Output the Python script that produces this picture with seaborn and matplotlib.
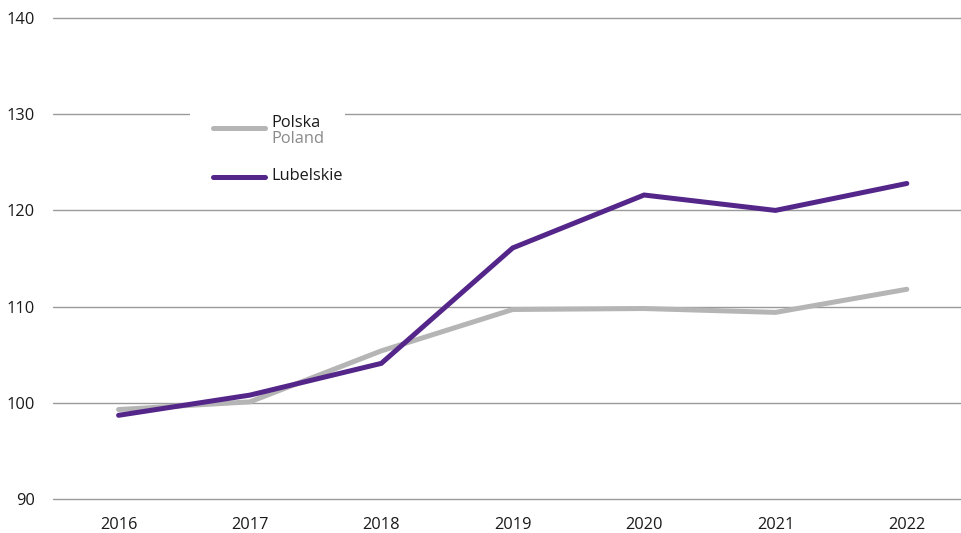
import matplotlib
matplotlib.use("Agg")
import matplotlib.pyplot as plt
import seaborn as sns
import pandas as pd
from matplotlib.lines import Line2D
from matplotlib.patches import Rectangle

years = [2016, 2017, 2018, 2019, 2020, 2021, 2022]
polska = [99.3, 100.1, 105.4, 109.7, 109.8, 109.4, 111.8]
lubelskie = [98.7, 100.8, 104.1, 116.1, 121.6, 120.0, 122.8]
yticks = [90, 100, 110, 120, 130, 140]

df = pd.DataFrame({
    "year": years * 2,
    "value": polska + lubelskie,
    "series": ["Polska"] * len(years) + ["Lubelskie"] * len(years),
})

sns.set_theme(style="white")
plt.rcParams["font.family"] = ["Open Sans", "DejaVu Sans"]

GRAY = "#b5b5b5"
PURPLE = "#54268a"
FS = 11.8

fig = plt.figure(figsize=(9.62, 5.33), dpi=100)
ax = fig.add_axes([0.055, 0.0638, 0.945, 0.9024])

ax.set_ylim(90, 140)
ax.set_xlim(2015.5, 2022.42)
ax.set_yticks(yticks)
ax.set_xticks(years)
ax.yaxis.grid(True, color="#9a9a9a", linewidth=1.0)
ax.set_axisbelow(True)
for gl in ax.yaxis.get_gridlines():
    gl.set_clip_on(False)

sns.lineplot(data=df, x="year", y="value", hue="series",
             palette={"Polska": GRAY, "Lubelskie": PURPLE},
             hue_order=["Polska", "Lubelskie"],
             linewidth=3.6, ax=ax, legend=False, zorder=3)
for l in ax.lines:
    l.set_solid_capstyle("round")
    l.set_solid_joinstyle("miter")

for s in ax.spines.values():
    s.set_visible(False)
ax.tick_params(axis="both", length=0, labelsize=FS, colors="#1a1a1a")
ax.tick_params(axis="y", pad=13)
ax.tick_params(axis="x", pad=13)
ax.set_xlabel("")
ax.set_ylabel("")

# legend (drawn in axes fraction coordinates)
T = ax.transAxes
ax.add_patch(Rectangle((0.1507, 0.645), 0.1705, 0.185, transform=T,
                       facecolor="white", edgecolor="none", zorder=4))
ax.add_line(Line2D([0.1760, 0.2332], [0.7713, 0.7713], transform=T, color=GRAY,
                   lw=3.6, solid_capstyle="round", zorder=5))
ax.add_line(Line2D([0.1760, 0.2332], [0.6694, 0.6694], transform=T, color=PURPLE,
                   lw=3.6, solid_capstyle="round", zorder=5))
ax.text(0.2398, 0.7820, "Polska", transform=T, fontsize=FS, color="#1a1a1a",
        va="center", ha="left", zorder=6)
ax.text(0.2398, 0.7490, "Poland", transform=T, fontsize=FS, color="#8a8a8a",
        va="center", ha="left", zorder=6)
ax.text(0.2398, 0.6714, "Lubelskie", transform=T, fontsize=FS, color="#1a1a1a",
        va="center", ha="left", zorder=6)

fig.savefig("out.png", dpi=100)
